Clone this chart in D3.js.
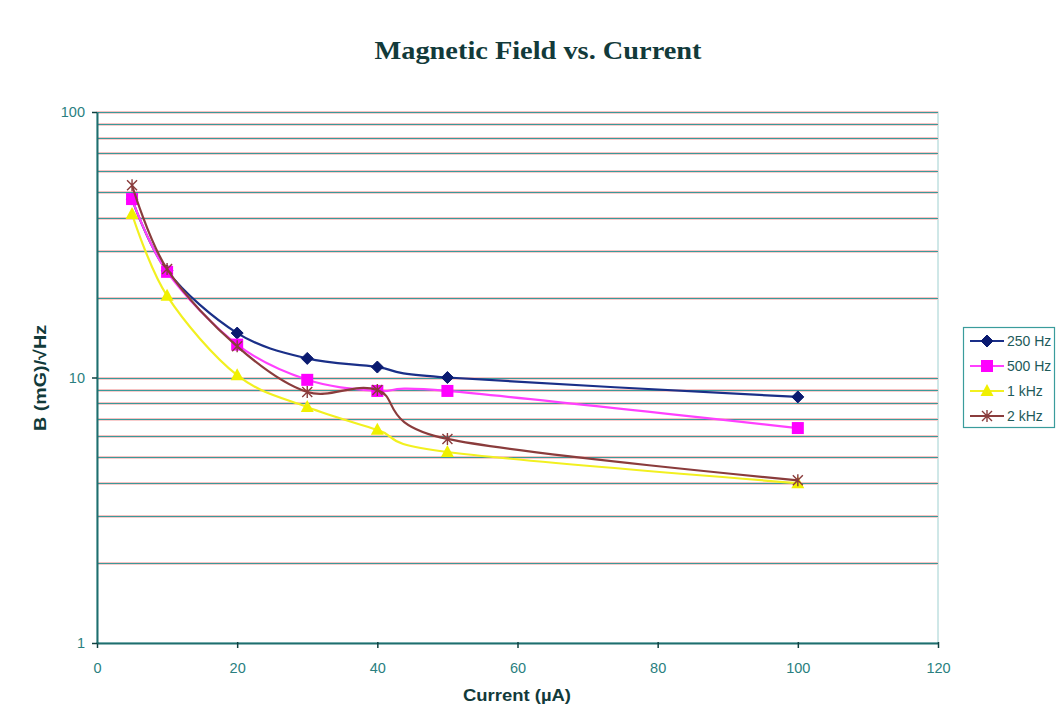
<!DOCTYPE html>
<html>
<head>
<meta charset="utf-8">
<script src="https://cdn.jsdelivr.net/npm/d3@7"></script>
<style>
html,body{margin:0;padding:0;background:#fff;}
svg{display:block;}
</style>
</head>
<body>
<script>
// ---- data ----
const currents = [5, 10, 20, 30, 40, 50, 100];
const seriesNames = ["250 Hz", "500 Hz", "1 kHz", "2 kHz"];
const b250 = [47.0, 25.2, 14.7, 11.8, 10.95, 10.0, 8.45];
const b500 = [47.0, 25.0, 13.3, 9.8, 8.9, 8.9, 6.45];
const b1k  = [41.3, 20.3, 10.2, 7.74, 6.35, 5.24, 4.0];
const b2k  = [53.0, 25.6, 13.1, 8.82, 8.97, 5.87, 4.1];
const xTicks = [0, 20, 40, 60, 80, 100, 120];
const yTicks = [1, 10, 100];
const title = "Magnetic Field vs. Current";
const xTitle = "Current (\u00B5A)";
const yTitle = "B (mG)/\u221AHz";

(function () {
const W = 1056, H = 718;
const svg = d3.select("body").append("svg").attr("width", W).attr("height", H);

const pL = 97, pR = 938, pT = 112, pB = 643;
const x = d3.scaleLinear().domain([0, 120]).range([pL, pR]);
const y = d3.scaleLog().domain([1, 100]).range([pB, pT]);

// title
svg.append("text").attr("x", 538).attr("y", 59).attr("text-anchor", "middle")
  .attr("font-family", "'Liberation Serif','Times New Roman',serif")
  .attr("font-weight", "bold").attr("font-size", 25).attr("fill", "#123a3a")
  .attr("textLength", 327).attr("lengthAdjust", "spacingAndGlyphs")
  .text(title);

// plot border (light)
svg.append("rect").attr("x", pL).attr("y", pT).attr("width", pR - pL).attr("height", pB - pT)
  .attr("fill", "#fff").attr("stroke", "#9fd0d0").attr("stroke-width", 1);

// gridlines
const gridVals = [];
for (let d = 1; d <= 10; d *= 10) for (let m = 2; m <= 10; m++) gridVals.push(m * d);
const grid = svg.append("g").attr("shape-rendering", "crispEdges");
gridVals.forEach(v => {
  const r = Math.round(y(v));
  const band = (yy, c) => grid.append("rect").attr("x", pL).attr("y", yy)
    .attr("width", pR - pL).attr("height", 1).attr("fill", c);
  band(r - 1, "#f6c2c2");
  band(r, "#3a9a9a");
  band(r + 1, "#f8cccc");
});

// axes
const axisColor = "#1e6e6e";
const xAxis = svg.append("g").attr("transform", `translate(0,${pB})`)
  .call(d3.axisBottom(x).tickValues(xTicks).tickSize(5).tickSizeOuter(0));
const yAxis = svg.append("g").attr("transform", `translate(${pL},0)`)
  .call(d3.axisLeft(y).tickValues(yTicks).tickFormat(d3.format("d")).tickSize(5).tickSizeOuter(0));
[xAxis, yAxis].forEach(a => {
  a.select(".domain").attr("stroke", axisColor).attr("stroke-width", 2);
  a.selectAll(".tick line").attr("stroke", "#0f4040").attr("stroke-width", 1.5);
  a.selectAll(".tick text").attr("font-family", "'Liberation Sans',Arial,sans-serif")
    .attr("font-size", 14.5).attr("fill", "#2a7f80");
});
xAxis.selectAll(".tick line").attr("y1", -1).attr("y2", 5);
xAxis.selectAll(".tick text").attr("dy", "0").attr("y", 30);
yAxis.selectAll(".tick text").attr("x", -12);

// axis titles
svg.append("text").attr("x", 517).attr("y", 701).attr("text-anchor", "middle")
  .attr("font-family", "'Liberation Sans',Arial,sans-serif").attr("font-weight", "bold")
  .attr("font-size", 17).attr("fill", "#123a3a")
  .attr("textLength", 108).attr("lengthAdjust", "spacingAndGlyphs").text(xTitle);
svg.append("text").attr("transform", "translate(46,378) rotate(-90)").attr("text-anchor", "middle")
  .attr("font-family", "'Liberation Sans',Arial,sans-serif").attr("font-weight", "bold")
  .attr("font-size", 17).attr("fill", "#123a3a")
  .attr("textLength", 106).attr("lengthAdjust", "spacingAndGlyphs").text(yTitle);

// series
const series = [
  {name: seriesNames[0], vals: b250, color: "#1a2f88", fill: "#0a1a70", shape: "diamond"},
  {name: seriesNames[1], vals: b500, color: "#ff40ff", fill: "#ff00ff", shape: "square"},
  {name: seriesNames[2], vals: b1k,  color: "#f2f020", fill: "#f0f000", shape: "triangle"},
  {name: seriesNames[3], vals: b2k,  color: "#8a3c3c", fill: "#8a3c3c", shape: "star"}
];

const line = d3.line().x(d => x(d[0])).y(d => y(d[1])).curve(d3.curveCardinal.tension(0));

function marker(g, shape, cx, cy, s) {
  if (shape === "diamond") {
    g.append("path").attr("d", `M${cx},${cy-6}L${cx+6},${cy}L${cx},${cy+6}L${cx-6},${cy}Z`)
      .attr("fill", s.fill).attr("stroke", s.fill);
  } else if (shape === "square") {
    g.append("rect").attr("x", cx - 6).attr("y", cy - 6).attr("width", 12).attr("height", 12)
      .attr("fill", s.fill);
  } else if (shape === "triangle") {
    g.append("path").attr("d", `M${cx},${cy-7}L${cx+6.5},${cy+5}L${cx-6.5},${cy+5}Z`)
      .attr("fill", s.fill);
  } else {
    g.append("path").attr("d", `M${cx-5},${cy-5}L${cx+5},${cy+5}M${cx+5},${cy-5}L${cx-5},${cy+5}M${cx},${cy-6}L${cx},${cy+6}`)
      .attr("stroke", s.fill).attr("stroke-width", 1.4).attr("fill", "none");
  }
}

series.forEach(s => {
  const pts = currents.map((c, i) => [c, s.vals[i]]);
  svg.append("path").datum(pts).attr("d", line).attr("fill", "none")
    .attr("stroke", s.color).attr("stroke-width", 2.2);
  const g = svg.append("g");
  pts.forEach(p => marker(g, s.shape, x(p[0]), y(p[1]), s));
});

// legend
const lg = svg.append("g");
lg.append("rect").attr("x", 963.5).attr("y", 327.5).attr("width", 91).attr("height", 100)
  .attr("fill", "#fff").attr("stroke", "#3a9c9c").attr("stroke-width", 1.2);
series.forEach((s, i) => {
  const ly = 341 + i * 25;
  lg.append("line").attr("x1", 970).attr("x2", 1004).attr("y1", ly).attr("y2", ly)
    .attr("stroke", s.color).attr("stroke-width", 2.2);
  marker(lg, s.shape, 987, ly, s);
  lg.append("text").attr("x", 1007).attr("y", ly + 5)
    .attr("font-family", "'Liberation Sans',Arial,sans-serif").attr("font-size", 14)
    .attr("fill", "#1e5a5a").text(s.name);
});
})();
</script>
</body>
</html>
